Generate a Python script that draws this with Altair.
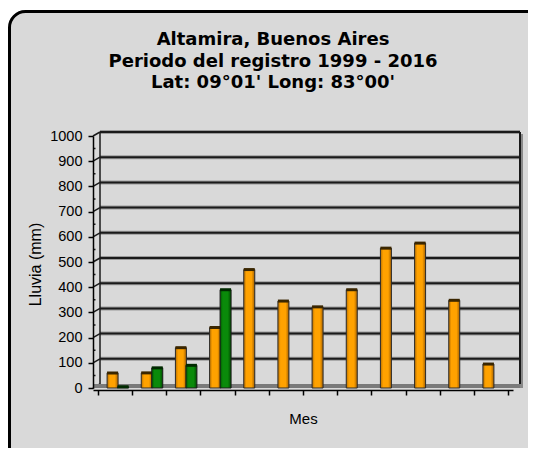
import altair as alt
import pandas as pd

# ---- data ----
meses = list(range(1, 13))
lluvia_naranja = [60, 60, 160, 240, 470, 345, 322, 390, 555, 575, 348, 95]
meses_verde = [1, 2, 3, 4]
lluvia_verde = [5, 80, 90, 390]
y_ticks = list(range(0, 1001, 100))
y_minor = list(range(50, 1000, 100))
x_ticks = [0.5 + i for i in range(13)]
titulo = ["Altamira, Buenos Aires", "Periodo del registro 1999 - 2016", "Lat: 09°01' Long: 83°00'"]

W, H = 420, 252
DX, DY = 7, 4  # 3D depth of back wall

df_a = pd.DataFrame({"mes": meses, "lluvia": lluvia_naranja})
df_b = pd.DataFrame({"mes": meses_verde, "lluvia": lluvia_verde})
df_grid = pd.DataFrame({"lluvia": y_ticks[1:]})
df_stub = pd.DataFrame({"lluvia": y_ticks})
df_minor = pd.DataFrame({"lluvia": y_minor})
one = pd.DataFrame({"k": [0]})

xscale = alt.Scale(domain=[0.5, 12.5], nice=False, zero=False)
yscale = alt.Scale(domain=[0, 1000], nice=False)

yaxis = alt.Axis(values=y_ticks, format="d", grid=False, zindex=1, tickSize=5, tickColor="black",
                 tickWidth=1.5, domainColor="black", domainWidth=1.5, labelFont="Liberation Sans",
                 labelFontSize=14.5, labelColor="black", labelPadding=6, title="Lluvia (mm)",
                 titleFont="Liberation Sans", titleFontSize=16, titleFontWeight="normal", titleColor="black",
                 titleX=-57.5, titleY=128, titleAngle=270, titleAlign="center", titleBaseline="middle")
xaxis = alt.Axis(values=x_ticks, labels=False, grid=False, zindex=1, tickSize=5, tickColor="black",
                 tickWidth=1.5, domainColor="black", domainWidth=1.5, offset=2, title="Mes",
                 titleFont="Liberation Sans", titleFontSize=15, titleFontWeight="normal", titleColor="black",
                 titleX=W / 2, titleY=28, titleBaseline="middle", titleAlign="center")

X = alt.X("mes:Q", scale=xscale, axis=xaxis, title="Mes")
Y = alt.Y("lluvia:Q", scale=yscale, axis=yaxis, title="Lluvia (mm)")

# white mask outside the rounded panel, then the panel border
mask = alt.Chart(one).mark_rect(cornerRadius=25.5, fillOpacity=0, stroke="white", strokeWidth=16).encode(
    x=alt.value(-93), x2=alt.value(479.5), y=alt.value(-134), y2=alt.value(359.5))
panel = alt.Chart(one).mark_rect(cornerRadius=16, fillOpacity=0, stroke="black", strokeWidth=3).encode(
    x=alt.value(-83.5), x2=alt.value(470), y=alt.value(-124.5), y2=alt.value(350))

grid_shadow = alt.Chart(df_grid).mark_rule(stroke="#9a9a9a", strokeWidth=4, yOffset=-DY, y2Offset=-DY).encode(
    y=Y, x=alt.value(DX), x2=alt.value(W + DX))
grid = alt.Chart(df_grid).mark_rule(stroke="#1a1a1a", strokeWidth=2, yOffset=-DY, y2Offset=-DY).encode(
    y=Y, x=alt.value(DX), x2=alt.value(W + DX))
stubs = alt.Chart(df_stub).mark_rule(stroke="#1a1a1a", strokeWidth=1.5, y2Offset=-DY).encode(
    y=Y, y2=alt.Y2("lluvia"), x=alt.value(0), x2=alt.value(DX))
minor = alt.Chart(df_minor).mark_rule(stroke="#1a1a1a", strokeWidth=1.5).encode(
    y=Y, x=alt.value(1), x2=alt.value(2.5))
left_wall = alt.Chart(one).mark_rule(stroke="#1a1a1a", strokeWidth=1.5).encode(
    x=alt.value(DX), y=alt.value(-DY), y2=alt.value(H - DY))
right_shadow = alt.Chart(one).mark_rule(stroke="#8a8a8a", strokeWidth=4).encode(
    x=alt.value(W + DX + 1), y=alt.value(-DY + 2), y2=alt.value(H))
right_wall = alt.Chart(one).mark_rule(stroke="#1a1a1a", strokeWidth=2).encode(
    x=alt.value(W + DX), y=alt.value(-DY), y2=alt.value(H - DY))
floor = alt.Chart(one).mark_rect(fill="#7a7a7a").encode(
    x=alt.value(0), x2=alt.value(W + DX), y=alt.value(H - DY), y2=alt.value(H))

grad_or = alt.LinearGradient(gradient="linear", x1=0, x2=1, y1=0, y2=0, stops=[
    alt.GradientStop(color="#b86f00", offset=0), alt.GradientStop(color="#ffa200", offset=0.25),
    alt.GradientStop(color="#ffa200", offset=0.7), alt.GradientStop(color="#a86200", offset=1)])
grad_gr = alt.LinearGradient(gradient="linear", x1=0, x2=1, y1=0, y2=0, stops=[
    alt.GradientStop(color="#005a00", offset=0), alt.GradientStop(color="#0a8a0a", offset=0.25),
    alt.GradientStop(color="#0a8a0a", offset=0.7), alt.GradientStop(color="#004a00", offset=1)])

BW = 11
bars_a = alt.Chart(df_a).mark_bar(width=BW, xOffset=-2.5, color=grad_or, stroke="#2a2a2a", strokeWidth=1,
                                  orient="vertical").encode(x=X, y=Y, y2=alt.datum(0))
caps_a = alt.Chart(df_a).mark_bar(width=BW, xOffset=-2.5, fill="#3a2600", yOffset=-1.5, y2Offset=1.5,
                                  orient="vertical").encode(x=X, y=Y, y2=alt.Y2("lluvia"))
bars_b = alt.Chart(df_b).mark_bar(width=BW, xOffset=8, color=grad_gr, stroke="#1a1a1a", strokeWidth=1,
                                  orient="vertical").encode(x=X, y=Y, y2=alt.datum(0))
caps_b = alt.Chart(df_b).mark_bar(width=BW, xOffset=8, fill="#002a00", yOffset=-1.5, y2Offset=1.5,
                                  orient="vertical").encode(x=X, y=Y, y2=alt.Y2("lluvia"))

title = alt.Chart(one).mark_text(text=titulo, font="DejaVu Sans", fontSize=18, fontWeight="bold",
                                 lineHeight=21.5, baseline="alphabetic", align="center", color="black").encode(
    x=alt.value(180), y=alt.value(-91))

chart = alt.layer(mask, panel, grid_shadow, grid, stubs, minor, left_wall, right_shadow, right_wall, floor,
                  bars_a, caps_a, bars_b, caps_b, title).properties(
    width=W, height=H, background="#d9d9d9",
    padding={"left": 85, "top": 128, "right": 15, "bottom": 60},
    autosize=alt.AutoSizeParams(type="none")
).configure_view(stroke=None).configure_axis(zindex=1)

chart.save("out.html", embed_options={"renderer": "svg", "actions": False})
